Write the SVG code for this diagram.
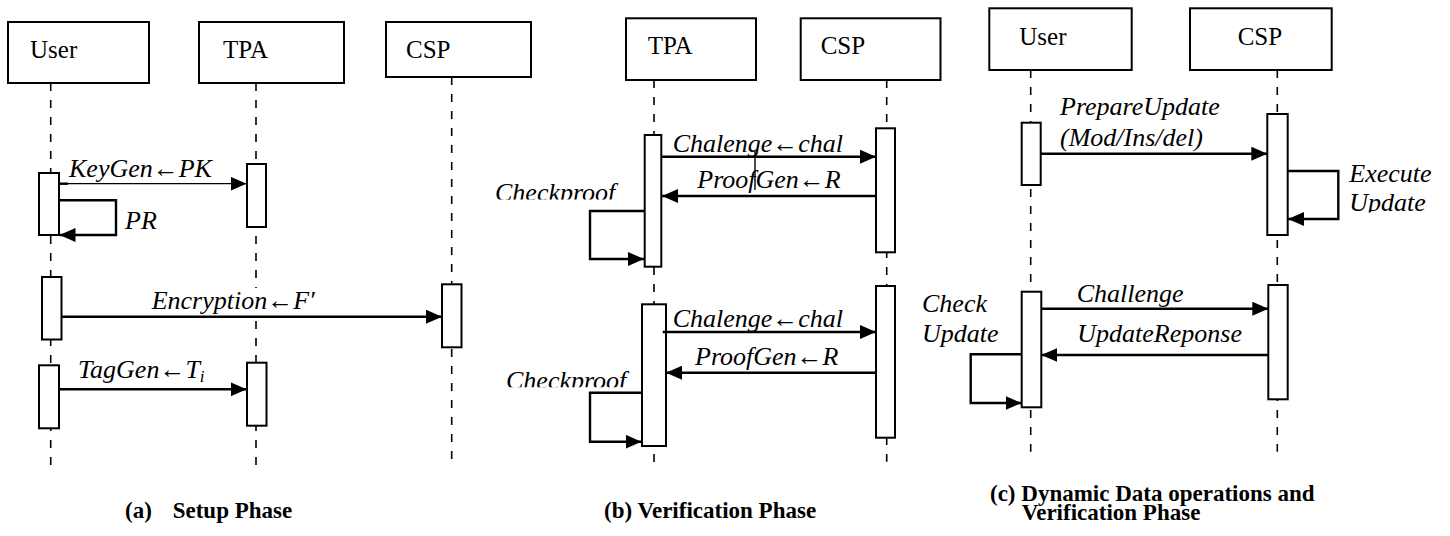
<svg xmlns="http://www.w3.org/2000/svg" width="1450" height="536" viewBox="0 0 1450 536">
<style>
.hd{fill:#fff;stroke:#000;stroke-width:2}
.act{fill:#fff;stroke:#000;stroke-width:2}
.ll{stroke:#000;stroke-width:1.6;stroke-dasharray:8,9;fill:none}
text{font-family:'Liberation Serif','Times New Roman',Times,'DejaVu Serif',serif;fill:#000}
.nm{font-size:25px}
.lb{font-size:26px;font-style:italic}
.cap{font-size:23px;font-weight:bold}
.msg{stroke:#000;stroke-width:2.4;fill:none;marker-end:url(#ah)}
.thin{stroke:#000;stroke-width:1.3;fill:none;marker-end:url(#ah)}
</style>
<defs>
<marker id="ah" markerUnits="userSpaceOnUse" markerWidth="17" markerHeight="14" refX="16" refY="7" orient="auto"><path d="M0,0 L16,7 L0,14 z" fill="#000"/></marker>
<clipPath id="cp1"><rect x="480" y="170" width="150" height="29.5"/></clipPath>
<clipPath id="cp2"><rect x="490" y="355" width="150" height="32.3"/></clipPath>
<clipPath id="cp3"><rect x="1340" y="185" width="110" height="27.5"/></clipPath>
</defs>
<rect width="1450" height="536" fill="#fff"/>

<!-- Panel (a) -->
<g id="a-user">
<line class="ll" x1="50.7" y1="83" x2="50.7" y2="465"/>
<rect class="hd" x="8" y="22" width="141" height="61"/>
<text class="nm" x="30" y="58.3" font-family="Liberation Serif, serif">User</text>
<rect class="act" x="39" y="173" width="20" height="62"/>
<rect class="act" x="42" y="277" width="19.5" height="62.5"/>
<rect class="act" x="39" y="365.3" width="20" height="63"/>
</g>
<g id="a-tpa">
<line class="ll" x1="256" y1="83" x2="256" y2="465"/>
<rect class="hd" x="199" y="22" width="145" height="61"/>
<text class="nm" x="223" y="58.3">TPA</text>
<rect class="act" x="247" y="164" width="19" height="63"/>
<rect class="act" x="247" y="362.7" width="19.5" height="63"/>
</g>
<g id="a-csp">
<line class="ll" x1="451.7" y1="77" x2="451.7" y2="459"/>
<rect class="hd" x="386" y="22" width="145" height="55"/>
<text class="nm" x="406" y="58.3">CSP</text>
<rect class="act" x="442" y="284.3" width="19.5" height="63"/>
</g>

<!-- Panel (b) -->
<g id="b-tpa">
<line class="ll" x1="654" y1="80" x2="654" y2="466.7"/>
<rect class="hd" x="626" y="18.3" width="130" height="61.7"/>
<text class="nm" x="647.7" y="54.3">TPA</text>
<rect class="act" x="644.7" y="135" width="16.6" height="131.7"/>
<rect class="act" x="642" y="304.3" width="24" height="141.7"/>
</g>
<g id="b-csp">
<line class="ll" x1="886.7" y1="80" x2="886.7" y2="461.7"/>
<rect class="hd" x="800.7" y="18.3" width="139.8" height="61.7"/>
<text class="nm" x="820.7" y="54.3">CSP</text>
<rect class="act" x="876" y="128.3" width="19" height="124"/>
<rect class="act" x="876" y="286" width="19" height="151.7"/>
</g>

<!-- Panel (c) -->
<g id="c-user">
<line class="ll" x1="1030.7" y1="70" x2="1030.7" y2="451.7"/>
<rect class="hd" x="989.3" y="8.3" width="142.4" height="61.7"/>
<text class="nm" x="1019.3" y="45">User</text>
<rect class="act" x="1021.7" y="122.7" width="19" height="62.3"/>
<rect class="act" x="1021.7" y="291.7" width="19.6" height="115.6"/>
</g>
<g id="c-csp">
<line class="ll" x1="1277.3" y1="70" x2="1277.3" y2="451.7"/>
<rect class="hd" x="1190" y="8.3" width="141.7" height="61.7"/>
<text class="nm" x="1237.7" y="45">CSP</text>
<rect class="act" x="1267.3" y="114" width="20.4" height="121"/>
<rect class="act" x="1268.3" y="285" width="19.4" height="114.3"/>
</g>

<g id="connectors">
<!-- (a) -->
<line x1="59" y1="183.7" x2="68" y2="183.7" stroke="#000" stroke-width="2.4"/>
<line class="thin" x1="59" y1="183.7" x2="246.5" y2="183.7"/>
<text class="lb" x="69" y="177">KeyGen←PK</text>
<polyline class="msg" points="59,200.3 116,200.3 116,235 59.5,235"/>
<text class="lb" x="125" y="229">PR</text>
<rect x="150" y="288" width="176" height="26" fill="#fff"/>
<line class="msg" x1="61.5" y1="316.7" x2="442" y2="316.7"/>
<text class="lb" x="151.7" y="309">Encryption←F′</text>
<line class="msg" x1="59" y1="389.3" x2="246.7" y2="389.3"/>
<text class="lb" x="78" y="378.3">TagGen←T<tspan font-size="17" dy="4">i</tspan></text>

<!-- (b) -->
<line class="msg" x1="661.3" y1="156.7" x2="876" y2="156.7"/>
<text class="lb" x="672.7" y="151.7">Chalenge←chal</text>
<line class="msg" x1="876" y1="196" x2="662" y2="196"/>
<text class="lb" x="697.3" y="188.3">ProofGen←R</text>
<line x1="755" y1="151" x2="755" y2="190" stroke="#000" stroke-width="1.4"/>
<polyline class="msg" points="644.7,211 590,211 590,259 644,259"/>
<text class="lb" x="495" y="201" clip-path="url(#cp1)">Checkproof</text>
<line class="msg" x1="662.7" y1="332" x2="876" y2="332"/>
<text class="lb" x="672.7" y="327.3">Chalenge←chal</text>
<line class="msg" x1="876" y1="372.7" x2="666" y2="372.7"/>
<text class="lb" x="695" y="365">ProofGen←R</text>
<polyline class="msg" points="642,392.7 590,392.7 590,441.7 641.5,441.7"/>
<text class="lb" x="506" y="388.5" clip-path="url(#cp2)">Checkproof</text>

<!-- (c) -->
<line class="msg" x1="1040.7" y1="153.7" x2="1267.3" y2="153.7"/>
<text class="lb" x="1060" y="115">PrepareUpdate</text>
<text class="lb" x="1060" y="146">(Mod/Ins/del)</text>
<polyline class="msg" points="1287.7,171 1338.3,171 1338.3,219 1288,219"/>
<text class="lb" x="1349.3" y="181.7">Execute</text>
<text class="lb" x="1349.3" y="211" clip-path="url(#cp3)">Update</text>
<line class="msg" x1="1041.3" y1="308.7" x2="1268.3" y2="308.7"/>
<text class="lb" x="1076.7" y="301.7">Challenge</text>
<line class="msg" x1="1268.3" y1="355" x2="1041.3" y2="355"/>
<text class="lb" x="1077.3" y="341.7">UpdateReponse</text>
<polyline class="msg" points="1021.7,354.3 970.7,354.3 970.7,403 1021.5,403"/>
<text class="lb" x="922" y="311.7">Check</text>
<text class="lb" x="922" y="341.7">Update</text>
</g>

<g id="captions">
<text class="cap" x="125" y="518.3">(a)</text>
<text class="cap" x="172.7" y="518.3">Setup Phase</text>
<text class="cap" x="604" y="518.3">(b) Verification Phase</text>
<text class="cap" x="990" y="500.7">(c) Dynamic Data operations and</text>
<text class="cap" x="1021.7" y="520">Verification Phase</text>
</g>
</svg>
